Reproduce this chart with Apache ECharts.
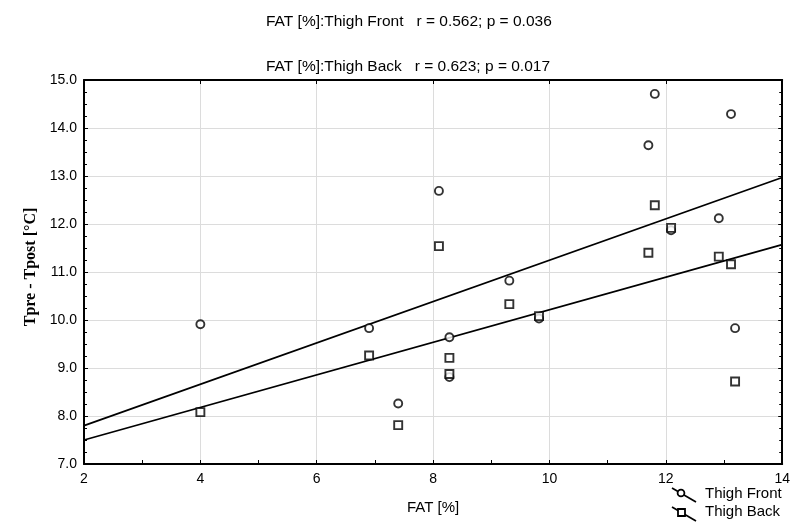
<!DOCTYPE html>
<html>
<head>
<meta charset="utf-8">
<script src="https://cdn.jsdelivr.net/npm/echarts@6/dist/echarts.min.js"></script>
<style>
  html, body { margin: 0; padding: 0; background: #fff; }
  #chart { width: 793px; height: 524px; }
</style>
</head>
<body>
<div id="chart"></div>
<script>
// Body fat percentage of each subject
const fatPercent = [4.0, 6.9, 7.4, 8.1, 8.28, 8.28, 9.31, 9.82, 11.70, 11.81, 12.09, 12.91, 13.12, 13.19];
// Temperature drop (Tpre - Tpost) measured on the thigh
const thighFront = [9.91, 9.83, 8.26, 12.69, 9.64, 8.81, 10.82, 10.03, 13.64, 14.71, 11.87, 12.12, 14.29, 9.83];
const thighBack  = [8.08, 9.26, 7.81, 11.54, 9.21, 8.875, 10.33, 10.08, 11.40, 12.39, 11.92, 11.32, 11.16, 8.72];
// Linear fits, evaluated at the ends of the FAT range
const fitX = [2, 14];
const fitFront = [7.8, 12.97];
const fitBack = [7.5, 11.57];
const titleLines = [
  'FAT [%]:Thigh Front   r = 0.562; p = 0.036',
  'FAT [%]:Thigh Back   r = 0.623; p = 0.017'
];
const seriesNames = ['Thigh Front', 'Thigh Back'];

const pairs = (xs, ys) => xs.map((x, i) => [x, ys[i]]);
const SANS = '"Liberation Sans", Arial, sans-serif';

const chart = echarts.init(document.getElementById('chart'), null, { renderer: 'canvas' });

const frameAxis = {
  axisLine: { show: true, lineStyle: { color: '#000', width: 2 } },
  axisTick: { show: true, inside: true, length: 4, lineStyle: { color: '#000', width: 1 } },
  axisLabel: { show: false },
  splitLine: { show: false }
};

chart.setOption({
  animation: false,
  backgroundColor: '#fff',
  title: titleLines.map((t, i) => ({
    text: t,
    left: 261,
    top: 9 + i * 45,
    textStyle: { fontFamily: SANS, fontSize: 15.5, fontWeight: 'normal', color: '#000' }
  })),
  grid: { left: 84, right: 10, top: 80, bottom: 60, containLabel: false },
  xAxis: [
    {
      type: 'value', min: 2, max: 14, interval: 2, position: 'bottom',
      name: 'FAT [%]', nameLocation: 'middle', nameGap: 36,
      nameTextStyle: { fontFamily: SANS, fontSize: 15, color: '#000' },
      axisLine: { show: true, onZero: false, lineStyle: { color: '#000', width: 2 } },
      axisTick: { show: true, inside: true, length: 4, lineStyle: { color: '#000' } },
      minorTick: { show: true, splitNumber: 2, length: 4, lineStyle: { color: '#000' } },
      axisLabel: { fontFamily: SANS, fontSize: 14, color: '#000', margin: 8 },
      splitLine: { show: true, lineStyle: { color: '#dcdcdc', width: 1 } }
    },
    Object.assign({ type: 'value', min: 2, max: 14, interval: 2, position: 'top' }, frameAxis)
  ],
  yAxis: [
    {
      type: 'value', min: 7, max: 15, interval: 1, position: 'left',
      name: 'Tpre - Tpost [\u00B0C]', nameLocation: 'middle', nameGap: 42,
      nameTextStyle: { fontFamily: '"Liberation Serif", "Times New Roman", serif', fontSize: 16,
        fontWeight: 'bold', color: '#000', padding: [0, 0, 0, 10] },
      axisLine: { show: true, onZero: false, lineStyle: { color: '#000', width: 2 } },
      axisTick: { show: true, inside: true, length: 4, lineStyle: { color: '#000' } },
      minorTick: { show: true, splitNumber: 4, length: 3, lineStyle: { color: '#000' } },
      axisLabel: { fontFamily: SANS, fontSize: 14, color: '#000', margin: 7,
        formatter: v => v.toFixed(1) },
      splitLine: { show: true, lineStyle: { color: '#dcdcdc', width: 1 } }
    },
    Object.assign({ type: 'value', min: 7, max: 15, interval: 1, position: 'right',
      minorTick: { show: true, splitNumber: 4, length: 3, lineStyle: { color: '#000' } } }, frameAxis)
  ],
  series: [
    {
      name: seriesNames[0] + ' fit', type: 'line', data: pairs(fitX, fitFront),
      showSymbol: false, symbol: 'none', lineStyle: { color: '#000', width: 1.7 }, z: 3
    },
    {
      name: seriesNames[1] + ' fit', type: 'line', data: pairs(fitX, fitBack),
      showSymbol: false, symbol: 'none', lineStyle: { color: '#000', width: 1.7 }, z: 3
    },
    {
      name: seriesNames[0], type: 'scatter', data: pairs(fatPercent, thighFront),
      symbol: 'circle', symbolSize: 8,
      itemStyle: { color: '#fff', borderColor: '#000', borderWidth: 1.9 }, z: 5
    },
    {
      name: seriesNames[1], type: 'scatter', data: pairs(fatPercent, thighBack),
      symbol: 'rect', symbolSize: 8,
      itemStyle: { color: '#fff', borderColor: '#000', borderWidth: 1.9 }, z: 5
    }
  ],
  graphic: [
    // legend: slanted line with the series marker on it
    { type: 'line', shape: { x1: 672, y1: 488, x2: 696, y2: 502 }, style: { stroke: '#000', lineWidth: 1.7 } },
    { type: 'circle', shape: { cx: 681, cy: 493, r: 3.4 }, style: { fill: '#fff', stroke: '#000', lineWidth: 1.8 } },
    { type: 'text', left: 705, top: 486, style: { text: seriesNames[0], font: '15px ' + SANS, fill: '#000' } },
    { type: 'line', shape: { x1: 672, y1: 507, x2: 696, y2: 521 }, style: { stroke: '#000', lineWidth: 1.7 } },
    { type: 'rect', shape: { x: 678, y: 509, width: 7, height: 7 }, style: { fill: '#fff', stroke: '#000', lineWidth: 1.8 } },
    { type: 'text', left: 705, top: 504, style: { text: seriesNames[1], font: '15px ' + SANS, fill: '#000' } }
  ]
});
</script>
</body>
</html>
